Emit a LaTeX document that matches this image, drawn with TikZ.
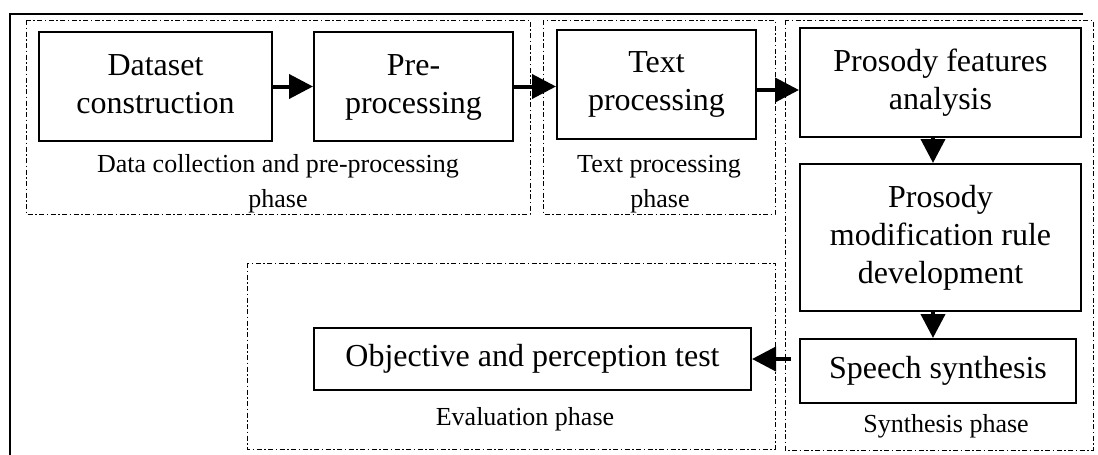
\documentclass[tikz,border=0pt]{standalone}
\usepackage{fontspec}
\setmainfont{Liberation Serif}
\usetikzlibrary{arrows.meta}
\begin{document}
\begin{tikzpicture}[x=1pt,y=-1pt,
  box/.style={draw, line width=2pt, align=center, inner sep=0pt, font=\fontsize{32}{38}\selectfont},
  phasebox/.style={line width=1pt, dash pattern=on 5pt off 2.5pt on 1.5pt off 2.5pt},
  lbl/.style={anchor=base, inner sep=0pt, font=\fontsize{26}{31}\selectfont},
  arr/.style={line width=4pt, -{Triangle[length=24pt,width=24pt]}}
]
\useasboundingbox (0,0) rectangle (1098,455);
% outer frame
\draw[line width=2pt] (1083,14) -- (10,14) -- (10,455);
% phase boxes
\draw[phasebox] (26,20) rectangle (530,214);
\draw[phasebox] (543,20) rectangle (775,214);
\draw[phasebox] (785,20) rectangle (1093,450);
\draw[phasebox] (247,263) rectangle (775,449);
% process boxes
\node[box, minimum width=233pt, minimum height=109pt] (ds) at (155.5,86.5) {\strut Dataset\\\strut construction};
\node[box, minimum width=199pt, minimum height=109pt] (pre) at (413.5,86.5) {\strut Pre-\\\strut processing};
\node[box, minimum width=199pt, minimum height=109pt] (txt) at (656.5,84) {\strut Text\\\strut processing};
\node[box, minimum width=281pt, minimum height=109pt] (pfa) at (940.5,82.5) {\strut Prosody features\\\strut analysis};
\node[box, minimum width=281pt, minimum height=147pt] (pmr) at (940.5,237.5) {\strut Prosody\\\strut modification rule\\\strut development};
\node[box, minimum width=276pt, minimum height=64pt] (ss) at (938,371) {\strut Speech synthesis};
\node[box, minimum width=437pt, minimum height=62pt] (obj) at (532.5,359) {\strut Objective and perception test};
% phase labels
\node[lbl] (l1a) at (278,172) {Data collection and pre-processing};
\node[lbl] (l1b) at (278,207) {phase};
\node[lbl] (l2a) at (659,172) {Text processing};
\node[lbl] (l2b) at (660,207) {phase};
\node[lbl] (l3) at (525,425) {Evaluation phase};
\node[lbl] (l4) at (946,432) {Synthesis phase};
% arrows
\draw[arr] (ds.east) -- (pre.west);
\draw[arr] (pre.east) -- (pre.east -| txt.west);
\draw[arr] ([yshift=-6pt]txt.east) -- ([yshift=-6pt]txt.east -| pfa.west);
\draw[arr] ([xshift=-7.5pt]pfa.south) -- ([xshift=-7.5pt]pfa.south |- pmr.north);
\draw[arr] ([xshift=-7.5pt]pmr.south) -- ([xshift=-7.5pt]pmr.south |- ss.north);
\draw[arr] ([xshift=-8pt]ss.west |- obj.east) -- (obj.east);
\end{tikzpicture}
\end{document}
